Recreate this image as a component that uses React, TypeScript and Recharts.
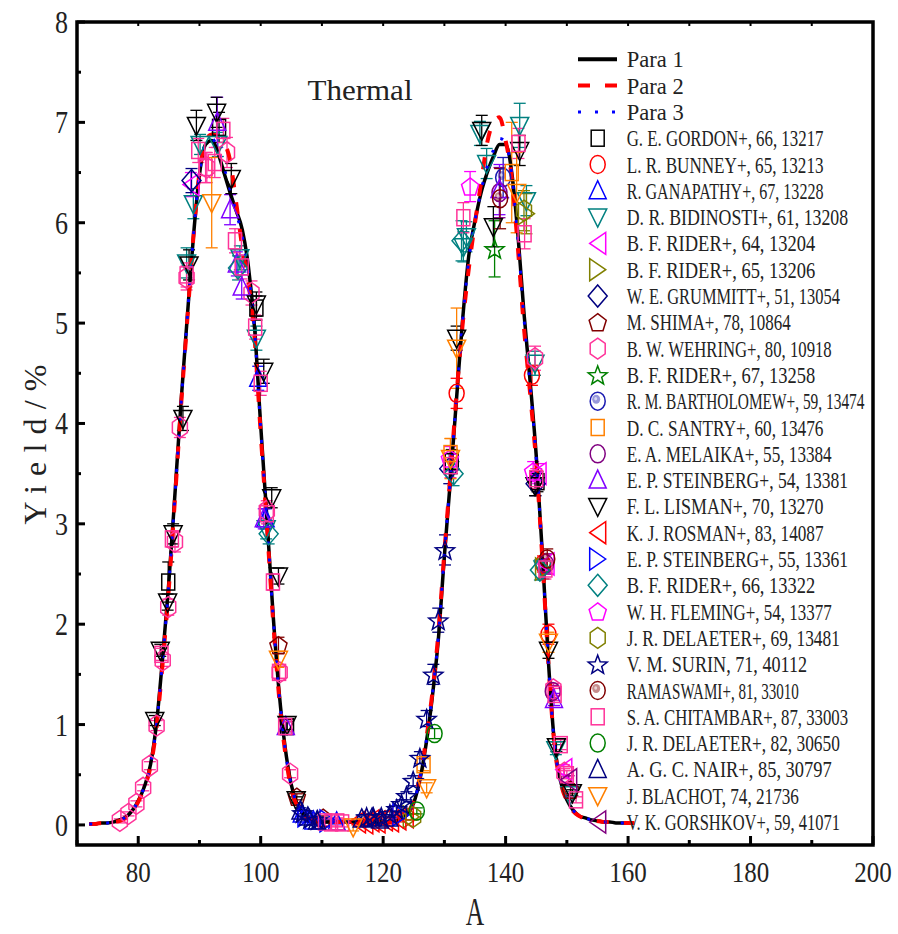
import React from 'react';
import { ComposedChart, Line, Scatter, XAxis, YAxis, ErrorBar, ReferenceArea, Legend } from 'recharts';

// ---------- data ----------
const massNumbers = [72,73,74,75,76,77,78,79,80,81,82,83,84,85,86,87,88,89,90,91,92,93,94,95,96,97,98,99,100,101,102,103,104,105,106,107,108,109,110,111,112,113,114,115,116,117,118,119,120,121,122,123,124,125,126,127,128,129,130,131,132,133,134,135,136,137,138,139,140,141,142,143,144,145,146,147,148,149,150,151,152,153,154,155,156,157,158,159,160,161];

const para1Yield = [0.01,0.01,0.02,0.02,0.03,0.05,0.08,0.14,0.24,0.38,
  0.6,1.02,1.68,2.42,3.3,4.22,5.05,5.85,6.48,6.78,
  6.82,6.7,6.5,6.3,6.12,5.93,5.56,4.95,3.98,3.07,
  2.12,1.33,0.77,0.4,0.2,0.11,0.06,0.04,0.03,0.03,
  0.03,0.03,0.03,0.03,0.03,0.03,0.03,0.03,0.03,0.03,
  0.04,0.06,0.11,0.22,0.45,0.8,1.26,1.84,2.68,3.45,
  4.26,5.05,5.68,6.02,6.3,6.5,6.66,6.78,6.78,6.5,
  5.89,5.1,4.42,3.68,2.7,1.62,0.8,0.43,0.25,0.15,
  0.09,0.07,0.05,0.04,0.03,0.03,0.02,0.02,0.02,0.02];

const para2Yield = [0.01,0.01,0.02,0.02,0.03,0.04,0.07,0.13,0.23,0.37,
  0.58,0.98,1.62,2.36,3.25,4.18,5.02,5.85,6.5,6.82,
  6.88,6.86,6.8,6.62,6.2,5.75,5.4,4.85,3.9,3.0,
  2.06,1.28,0.72,0.36,0.18,0.1,0.06,0.04,0.03,0.03,
  0.03,0.03,0.03,0.03,0.03,0.03,0.03,0.03,0.03,0.03,
  0.04,0.06,0.12,0.24,0.48,0.84,1.3,1.9,2.72,3.5,
  4.3,5.0,5.55,6.0,6.4,6.8,7.0,7.05,6.82,6.45,
  5.75,4.95,4.3,3.6,2.65,1.6,0.78,0.42,0.24,0.14,
  0.09,0.06,0.05,0.04,0.03,0.03,0.02,0.02,0.02,0.02];

const para3Yield = [0.01,0.01,0.02,0.02,0.03,0.05,0.08,0.14,0.24,0.38,
  0.6,1.0,1.66,2.4,3.28,4.2,5.04,5.86,6.48,6.8,
  6.84,6.74,6.55,6.33,6.1,5.86,5.5,4.92,3.95,3.05,
  2.1,1.31,0.75,0.39,0.2,0.11,0.06,0.04,0.03,0.03,
  0.03,0.03,0.03,0.03,0.03,0.03,0.03,0.03,0.03,0.03,
  0.04,0.06,0.11,0.23,0.46,0.82,1.28,1.86,2.7,3.47,
  4.28,5.04,5.64,6.02,6.32,6.56,6.72,6.84,6.8,6.48,
  5.84,5.05,4.38,3.65,2.68,1.61,0.79,0.43,0.25,0.15,
  0.09,0.07,0.05,0.04,0.03,0.03,0.02,0.02,0.02,0.02];

const xTicks = [70,80,90,100,110,120,130,140,150,160,170,180,190,200];
const yTicks = [0,0.5,1,1.5,2,2.5,3,3.5,4,4.5,5,5.5,6,6.5,7,7.5,8];

// experimental points: [A, yield %, error]
const gordon66 = [[84.9,2.42,0.2],[93.2,6.95,0.15],[99.3,5.15,0.12],[104.3,0.98,0.05],[131.2,3.62,0.12],[145.2,3.42,0.1]];
const bunney65 = [[144.3,4.48,0.1],[146.1,2.6,0.08],[147.0,1.9,0.1],[132.0,4.3,0.15]];
const ganapathy67 = [[106.7,0.11,0.03],[108.6,0.04,0.02],[99.6,4.45,0.12],[100.8,3.05,0.1],[112.4,0.03,0.02]];
const bidinosti61 = [[87.9,5.6,0.15],[89.0,6.19,0.15],[90.1,6.78,0.1],[93.0,6.78,0.12],[96.6,5.65,0.12],[99.3,4.85,0.12],[100.9,2.95,0.1],[133.1,5.76,0.15],[133.6,5.86,0.15],[135.8,6.89,0.12],[136.9,6.59,0.15],[142.3,6.97,0.22],[143.4,6.22,0.15],[144.8,4.6,0.12],[146.1,2.55,0.1],[148.2,0.75,0.05],[150.5,0.3,0.03]];
const rider64 = [[88.6,6.38,0.12],[145.3,3.5,0.1],[146.6,2.6,0.1],[149.5,0.55,0.05]];
const rider65 = [[143.4,6.09,0.2],[124.6,0.08,0.03],[146.2,2.55,0.1]];
const grummitt51 = [[88.7,6.42,0.12],[130.8,3.55,0.15],[144.9,3.4,0.12]];
const shima78 = [[102.9,1.79,0.08],[105.9,0.28,0.03],[110.2,0.07,0.02],[150.6,0.35,0.04]];
const wehring80 = [[77.0,0.04,0.02],[78.4,0.11,0.02],[79.7,0.21,0.03],[80.8,0.37,0.03],[81.9,0.59,0.04],[83.0,0.99,0.05],[84.0,1.64,0.06],[84.9,2.17,0.08],[86.0,2.82,0.1],[86.8,3.96,0.1],[87.9,5.45,0.12],[91.2,6.55,0.15],[94.5,6.7,0.15],[98.5,5.3,0.12],[101.0,3.13,0.1],[103.1,1.52,0.06],[104.8,0.51,0.04],[144.8,4.65,0.12],[147.8,1.35,0.06],[149.6,0.52,0.04]];
const rider67 = [[138.2,5.74,0.28]];
const bartholomew59 = [[139.6,6.45,0.2]];
const santry60 = [[126.6,0.6,0.06],[131.0,3.7,0.15],[141.0,6.5,0.5]];
const melaika55 = [[139.0,6.3,0.25],[146.6,2.6,0.1],[147.7,1.33,0.06]];
const steinberg54 = [[92.9,7.0,0.25],[95.0,6.13,0.15],[96.1,5.59,0.12],[96.9,5.36,0.12],[100.5,3.05,0.1],[104.1,0.98,0.05],[139.0,6.33,0.25],[147.9,1.25,0.06]];
const lisman70 = [[82.7,1.04,0.05],[83.6,1.74,0.06],[84.8,2.22,0.08],[85.7,2.9,0.1],[87.3,4.05,0.12],[88.3,5.58,0.15],[89.5,6.97,0.15],[92.8,7.1,0.15],[95.2,6.44,0.15],[99.3,5.19,0.12],[100.5,4.52,0.12],[101.8,3.26,0.1],[102.9,2.48,0.08],[104.3,1.0,0.05],[105.8,0.25,0.03],[132.0,4.85,0.12],[136.1,6.92,0.15],[138.0,5.96,0.2],[142.3,6.72,0.15],[144.8,3.38,0.1],[147.0,1.74,0.08],[148.3,0.78,0.05],[150.9,0.32,0.03]];
const rosman83 = [[115.8,0.03,0.03],[117.0,0.02,0.03],[118.0,0.04,0.03],[119.0,0.03,0.03],[120.2,0.05,0.03],[121.2,0.04,0.03],[122.4,0.06,0.03],[123.6,0.08,0.03]];
const steinberg55 = [[107.4,0.09,0.03],[111.0,0.04,0.02],[122.9,0.1,0.03]];
const rider66 = [[96.3,5.55,0.12],[101.3,2.9,0.1],[131.5,3.5,0.12],[132.8,5.82,0.2],[145.6,2.54,0.1]];
const fleming54 = [[130.9,3.65,0.12],[134.2,6.36,0.15],[144.5,3.52,0.1]];
const delaeter69 = [[124.9,0.08,0.03],[143.0,6.12,0.2]];
const surin71 = [[106.8,0.12,0.03],[108.0,0.06,0.03],[109.3,0.05,0.03],[117.3,0.08,0.03],[118.4,0.08,0.03],[119.7,0.08,0.03],[121.1,0.11,0.03],[122.2,0.16,0.03],[123.0,0.21,0.04],[123.8,0.29,0.04],[124.9,0.44,0.05],[126.0,0.67,0.06],[127.1,1.06,0.08],[128.2,1.5,0.1],[129.0,2.04,0.12],[130.1,2.74,0.15]];
const ramaswami81 = [[139.1,6.24,0.3],[146.8,2.65,0.1]];
const chitambar87 = [[83.8,1.7,0.06],[85.5,2.85,0.08],[87.9,5.48,0.12],[89.8,6.72,0.12],[91.0,6.55,0.15],[92.5,6.6,0.15],[93.9,6.92,0.12],[95.8,5.82,0.12],[96.9,5.56,0.12],[99.1,4.96,0.12],[100.0,4.4,0.12],[101.0,3.1,0.1],[102.0,2.42,0.08],[103.0,1.52,0.06],[104.0,0.98,0.05],[110.5,0.03,0.04],[111.5,0.02,0.04],[112.5,0.03,0.04],[113.3,0.02,0.04],[131.0,3.58,0.12],[133.1,6.05,0.15],[142.1,6.79,0.15],[143.1,5.89,0.15],[145.0,3.45,0.1],[146.5,2.55,0.1],[148.0,1.3,0.06],[149.0,0.8,0.05],[150.0,0.5,0.04],[151.5,0.25,0.03]];
const delaeter82 = [[125.5,0.14,0.03],[128.4,0.91,0.05]];
const nair85 = [[106.5,0.14,0.03],[107.7,0.08,0.03],[109.2,0.04,0.03],[116.5,0.06,0.03],[118.2,0.07,0.03],[119.5,0.05,0.03],[121.0,0.07,0.03]];
const blachot74 = [[92.0,6.2,0.45],[102.9,1.65,0.08],[115.1,-0.02,0.04],[127.1,0.37,0.05],[131.0,3.65,0.2],[132.0,4.75,0.4],[141.8,6.3,0.4],[147.0,1.82,0.1]];
const gorshkov59 = [[150.3,0.45,0.04]];

const seriesNames = [
  'G. E. GORDON+, 66, 13217','L. R. BUNNEY+, 65, 13213','R. GANAPATHY+, 67, 13228','D. R. BIDINOSTI+, 61, 13208',
  'B. F. RIDER+, 64, 13204','B. F. RIDER+, 65, 13206','W. E. GRUMMITT+, 51, 13054','M. SHIMA+, 78, 10864',
  'B. W. WEHRING+, 80, 10918','B. F. RIDER+, 67, 13258','R. M. BARTHOLOMEW+, 59, 13474','D. C. SANTRY+, 60, 13476',
  'E. A. MELAIKA+, 55, 13384','E. P. STEINBERG+, 54, 13381','F. L. LISMAN+, 70, 13270','K. J. ROSMAN+, 83, 14087',
  'E. P. STEINBERG+, 55, 13361','B. F. RIDER+, 66, 13322','W. H. FLEMING+, 54, 13377','J. R. DELAETER+, 69, 13481',
  'V. M. SURIN, 71, 40112','RAMASWAMI+, 81, 33010','S. A. CHITAMBAR+, 87, 33003','J. R. DELAETER+, 82, 30650',
  'A. G. C. NAIR+, 85, 30797','J. BLACHOT, 74, 21736','V. K. GORSHKOV+, 59, 41071'];
const seriesValues = [gordon66,bunney65,ganapathy67,bidinosti61,rider64,rider65,grummitt51,shima78,wehring80,rider67,
  bartholomew59,santry60,melaika55,steinberg54,lisman70,rosman83,steinberg55,rider66,fleming54,delaeter69,
  surin71,ramaswami81,chitambar87,delaeter82,nair85,blachot74,gorshkov59];
const seriesColors = ['#000000','#ff0000','#0000ff','#008080','#ff00ff','#808000','#000080','#800000','#ff3399','#008000',
  '#1a1ab0','#ff8000','#800080','#8000ff','#000000','#ff0000','#0000ff','#008080','#ff00ff','#808000',
  '#000080','#800000','#ff3399','#008000','#000080','#ff8000','#800080'];
const seriesMarkers = ['square','circle','triUp','triDown','triLeft','triRight','diamond','pentagon','hexagon','star',
  'sphere','square','circle','triUp','triDown','triLeft','triRight','diamond','pentagon','hexagon',
  'star','sphere','square','circle','triUp','triDown','triLeft'];

const lineNames = ['Para 1','Para 2','Para 3'];
const lineColors = ['#000000','#ff0000','#0000ff'];

// ---------- helpers ----------
const FONT = "'Liberation Serif', 'DejaVu Serif', serif";
const PLOT_TOP = 22;

const toLine = (vals: number[]) => massNumbers.map((a, i) => ({ a, y: vals[i] }));
const lineData = [toLine(para1Yield), toLine(para2Yield), toLine(para3Yield)];
const lineStyles = [
  { strokeWidth: 3.5, dash: undefined as string | undefined },
  { strokeWidth: 4, dash: '12 15' },
  { strokeWidth: 3, dash: '3 14' },
];

const pentPts = [0,1,2,3,4].map(k => { const t = (-90 + 72 * k) * Math.PI / 180; return [9 * Math.cos(t), 9.5 * Math.sin(t) + 0.8]; });
const hexPts = [[0,-10.5],[7.5,-5.2],[7.5,5.2],[0,10.5],[-7.5,5.2],[-7.5,-5.2]];
const starPts = Array.from({ length: 10 }, (_, k) => { const r = k % 2 === 0 ? 10 : 4.2; const t = (-90 + 36 * k) * Math.PI / 180; return [r * Math.cos(t), r * Math.sin(t) + 1]; });

function Marker({ kind, color, cx, cy }: { kind: string; color: string; cx: number; cy: number }) {
  if (cx == null || cy == null || isNaN(cx) || isNaN(cy)) return null;
  const common = { fill: 'none', stroke: color, strokeWidth: 1.5 };
  const poly = (pts: number[][]) => <polygon points={pts.map(([x, y]) => `${cx + x},${cy + y}`).join(' ')} {...common} />;
  switch (kind) {
    case 'square': return <rect x={cx - 6.5} y={cy - 8} width={13} height={16} {...common} />;
    case 'circle': return <ellipse cx={cx} cy={cy} rx={7.5} ry={9} {...common} />;
    case 'triUp': return poly([[0, -10], [8.5, 8], [-8.5, 8]]);
    case 'triDown': return poly([[0, 10], [9, -8], [-9, -8]]);
    case 'triLeft': return poly([[-8, 0], [8, -11], [8, 11]]);
    case 'triRight': return poly([[8, 0], [-8, -11], [-8, 11]]);
    case 'diamond': return poly([[0, -11], [9.5, 0], [0, 11], [-9.5, 0]]);
    case 'pentagon': return poly(pentPts);
    case 'hexagon': return poly(hexPts);
    case 'star': return poly(starPts);
    case 'sphere': return (
      <g>
        <ellipse cx={cx} cy={cy} rx={7.5} ry={9} {...common} />
        <ellipse cx={cx - 1.5} cy={cy - 2} rx={4} ry={4.5} fill={color} opacity={0.45} />
        <ellipse cx={cx - 2} cy={cy - 2.5} rx={1.5} ry={1.8} fill="#ffffff" opacity={0.6} />
      </g>
    );
    default: return null;
  }
}

// condensed text: drawn in a half-width group, stretched back to the target width
function CondensedText({ x, y, width, size, children }: { x: number; y: number; width: number; size: number; children: string }) {
  return (
    <g transform={`translate(${x},${y}) scale(0.5,1)`}>
      <text x={0} y={0} fontFamily={FONT} fontSize={size} fill="#222"
        textLength={width * 2} lengthAdjust="spacingAndGlyphs">{children}</text>
    </g>
  );
}

const XTick = (props: any) => {
  const { x, y, payload } = props;
  const v = payload.value;
  const major = v % 20 === 0;
  const label = String(v);
  return (
    <g>
      <line x1={x} x2={x} y1={y} y2={y - (major ? 9 : 5)} stroke="#000" strokeWidth={3} />
      <line x1={x} x2={x} y1={PLOT_TOP} y2={PLOT_TOP + 4} stroke="#000" strokeWidth={2} />
      {major && v !== 70 && (
        <text x={x} y={y + 37} textAnchor="middle" fontFamily={FONT} fontSize={30} fill="#222"
          textLength={label.length * 12.5} lengthAdjust="spacingAndGlyphs">{label}</text>
      )}
    </g>
  );
};

const YTick = (props: any) => {
  const { x, y, payload } = props;
  const v = payload.value;
  const major = Number.isInteger(v);
  const label = String(v);
  return (
    <g>
      <line x1={x} x2={x + (major ? 8 : 4)} y1={y} y2={y} stroke="#000" strokeWidth={3} />
      {major && (
        <text x={x - 9} y={y + 11} textAnchor="end" fontFamily={FONT} fontSize={31} fill="#222"
          textLength={label.length * 13} lengthAdjust="spacingAndGlyphs">{label}</text>
      )}
    </g>
  );
};

const XLabel = (props: any) => {
  const vb = props.viewBox || {};
  const cx = vb.x + vb.width / 2;
  const by = vb.y + 80;
  return (
    <g transform={`translate(${cx},${by}) scale(0.75,1.2)`}>
      <text x={0} y={0} textAnchor="middle" fontFamily={FONT} fontSize={34} fill="#222">A</text>
    </g>
  );
};

const YLabel = (props: any) => {
  const vb = props.viewBox || {};
  const cx = 35;
  const cy = vb.y + vb.height / 2 + 11;
  return (
    <text x={cx} y={cy} transform={`rotate(-90 ${cx} ${cy})`} textAnchor="middle" dominantBaseline="central"
      fontFamily={FONT} fontSize={32} fill="#222" textLength={160} lengthAdjust="spacing">Yield/%</text>
  );
};

const TitleLabel = (props: any) => {
  const vb = props.viewBox || {};
  return (
    <text x={vb.x + 283} y={vb.y + 78} textAnchor="middle" fontFamily={FONT} fontSize={30} fill="#222"
      textLength={105} lengthAdjust="spacingAndGlyphs">Thermal</text>
  );
};

const ROW = 26.3;
const renderLegend = () => (
  <svg width={320} height={800} style={{ display: 'block', overflow: 'visible' }}>
    {lineNames.map((name, i) => {
      const y = 19.3 + i * ROW;
      return (
        <g key={name}>
          <line x1={18} x2={57} y1={y} y2={y} stroke={lineColors[i]} strokeWidth={i === 2 ? 3 : 4}
            strokeDasharray={i === 0 ? undefined : i === 1 ? '12 15' : '3 14'} />
          <CondensedText x={66.7} y={y + 8} width={57} size={23}>{name}</CondensedText>
        </g>
      );
    })}
    {seriesNames.map((name, j) => {
      const y = 19.3 + (j + 3) * ROW;
      return (
        <g key={name + j}>
          <Marker kind={seriesMarkers[j]} color={seriesColors[j]} cx={37.7} cy={y} />
          <CondensedText x={66.7} y={y + 8} width={name.length * 8.2} size={23}>{name}</CondensedText>
        </g>
      );
    })}
  </svg>
);

export default function App() {
  return (
    <div style={{ position: 'fixed', left: 0, top: 0, width: 898, height: 934, background: '#fff' }}>
      <ComposedChart width={898} height={934} margin={{ top: 22, right: 25, bottom: 29, left: 0 }}>
        <XAxis dataKey="a" type="number" domain={[70, 200]} ticks={xTicks} interval={0} allowDataOverflow
          axisLine={false} tickLine={false} tickSize={0} tickMargin={0} height={60} tick={<XTick />} label={XLabel} />
        <YAxis dataKey="y" type="number" domain={[-0.2, 8]} ticks={yTicks} interval={0} allowDataOverflow
          axisLine={false} tickLine={false} tickSize={0} tickMargin={0} width={77} tick={<YTick />} label={YLabel} />
        <Legend layout="vertical" align="center" verticalAlign="middle" content={renderLegend}
          wrapperStyle={{ left: 560, top: 40, width: 320, height: 800 }} />
        {seriesNames.map((name, j) => (
          <Scatter key={name + j} name={name} data={seriesValues[j].map(([a, y, e]) => ({ a, y, e }))}
            dataKey="y" isAnimationActive={false}
            shape={(p: any) => <Marker kind={seriesMarkers[j]} color={seriesColors[j]} cx={p.cx} cy={p.cy} />}>
            <ErrorBar dataKey="e" direction="y" width={6} stroke={seriesColors[j]} strokeWidth={1.3} />
          </Scatter>
        ))}
        {lineNames.map((name, i) => (
          <Line key={name} name={name} data={lineData[i]} dataKey="y" type="monotone" dot={false}
            stroke={lineColors[i]} strokeWidth={lineStyles[i].strokeWidth} strokeDasharray={lineStyles[i].dash}
            isAnimationActive={false} />
        ))}
        <ReferenceArea x1={70} x2={200} y1={-0.2} y2={8} fill="none" stroke="#000" strokeWidth={3.5}
          fillOpacity={0} label={TitleLabel} />
      </ComposedChart>
    </div>
  );
}
